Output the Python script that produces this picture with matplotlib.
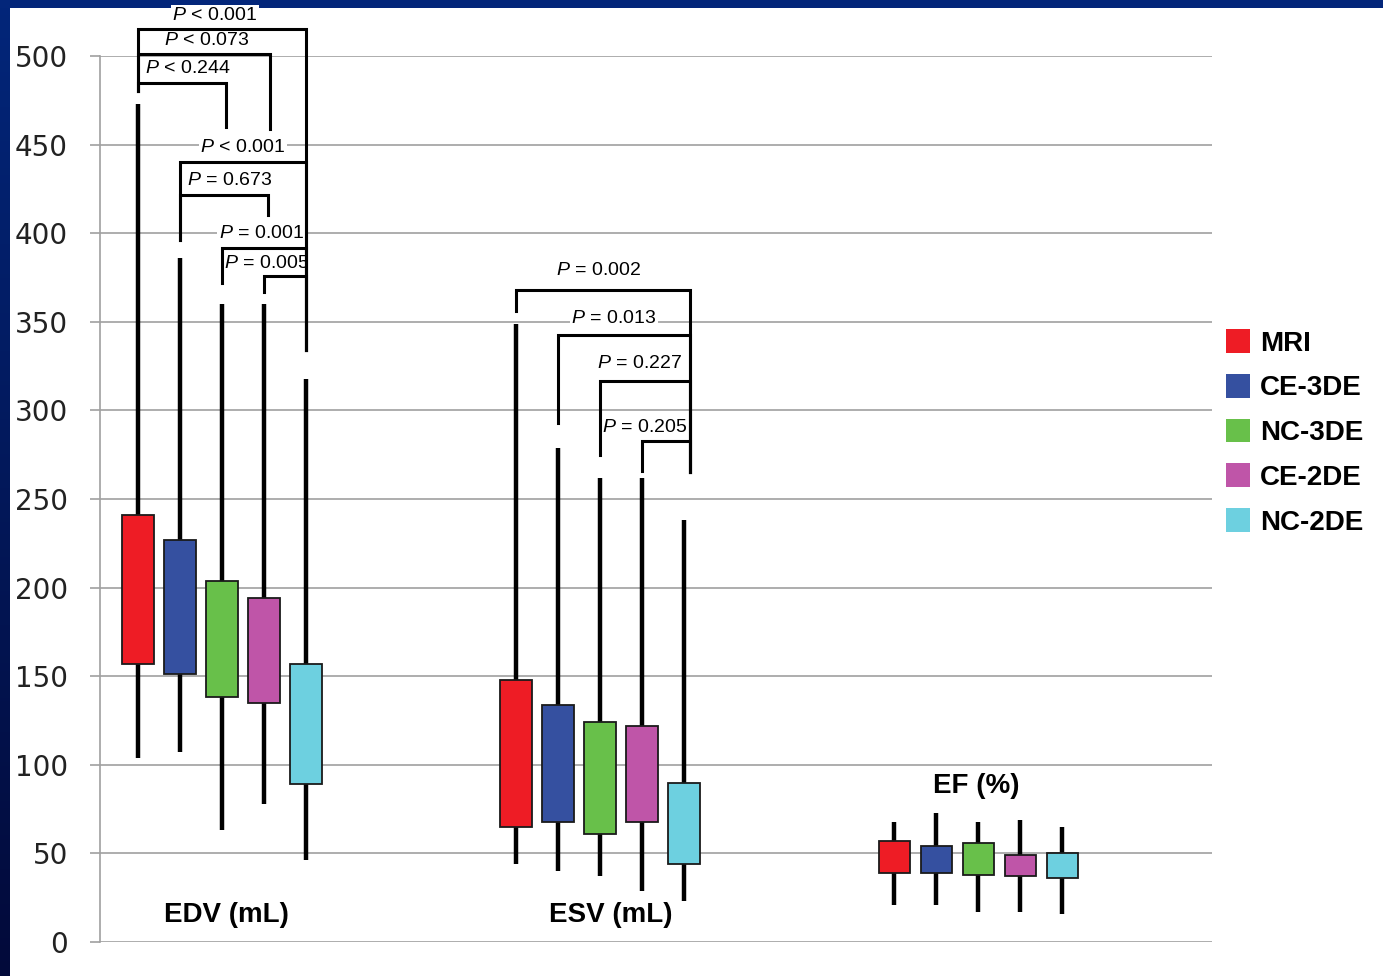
import numpy as np
import matplotlib
matplotlib.use('Agg')
import matplotlib.pyplot as plt
from matplotlib.patches import Rectangle, Patch
from matplotlib.colors import LinearSegmentedColormap

plt.rcParams['mathtext.fontset'] = 'custom'
plt.rcParams['mathtext.it'] = 'Liberation Sans:italic'
plt.rcParams['mathtext.rm'] = 'Liberation Sans'

methods = ['MRI', 'CE-3DE', 'NC-3DE', 'CE-2DE', 'NC-2DE']
colors = ['#EE1C25', '#3550A0', '#68C04A', '#BF55A8', '#6DD0E0']
groups = ['EDV (mL)', 'ESV (mL)', 'EF (%)']
group_label_x = [0.1, 9.26, 17.95]
group_label_y = [15, 15, 88]

# per group: whisker min, box bottom, box top, whisker max
edv_min = [104, 107, 63, 78, 46]
edv_q1 = [157, 151, 138, 135, 89]
edv_q3 = [241, 227, 204, 194, 157]
edv_max = [473, 386, 360, 360, 318]

esv_min = [44, 40, 37, 29, 23]
esv_q1 = [65, 68, 61, 68, 44]
esv_q3 = [148, 134, 124, 122, 90]
esv_max = [349, 279, 262, 262, 238]

ef_min = [21, 21, 17, 17, 16]
ef_q1 = [39, 39, 38, 37, 36]
ef_q3 = [57, 54, 56, 49, 50]
ef_max = [68, 73, 68, 69, 65]

mins = [edv_min, esv_min, ef_min]
q1s = [edv_q1, esv_q1, ef_q1]
q3s = [edv_q3, esv_q3, ef_q3]
maxs = [edv_max, esv_max, ef_max]

# brackets: group, box i, box j (+ small shift), bar height, left leg end, right leg end,
# label, label x (box units from first box), label y
brackets = [
    (0, 0, 4.0, 515, 480, 334, '$P$ < 0.001', 1.83, 523),
    (0, 0, 3.15, 501, 480, 459, '$P$ < 0.073', 1.64, 508.5),
    (0, 0, 2.1, 485, 480, 460, '$P$ < 0.244', 1.19, 493),
    (0, 1, 4.0, 440, 396, 334, '$P$ < 0.001', 2.5, 448.6),
    (0, 1, 3.1, 421.6, 396, 410, '$P$ = 0.673', 2.19, 430),
    (0, 2, 4.0, 391.6, 372, 334, '$P$ = 0.001', 2.93, 400),
    (0, 3, 4.0, 375.8, 367, 334, '$P$ = 0.005', 3.07, 383),
    (1, 0, 4.15, 368, 356, 265, '$P$ = 0.002', 1.97, 379),
    (1, 1, 4.15, 342.5, 293, 265, '$P$ = 0.013', 2.33, 352),
    (1, 2, 4.15, 316.6, 275, 265, '$P$ = 0.227', 2.95, 326.7),
    (1, 3, 4.15, 282.7, 266, 265, '$P$ = 0.205', 3.07, 290.6),
]

group_gap = 9
box_w = 0.74

fig = plt.figure(figsize=(13.83, 9.76), dpi=100)
fig.patch.set_facecolor('white')

# slide background strips
grad = np.linspace(0, 1, 256).reshape(-1, 1)
slide = LinearSegmentedColormap.from_list('slide', ['#03267A', '#020A3A'])
bl = fig.add_axes([0, 0, 10 / 1383, 1])
bl.imshow(grad, aspect='auto', cmap=slide)
bl.axis('off')
bt = fig.add_axes([0, 1 - 8 / 976, 1, 8 / 976])
bt.imshow(np.zeros((1, 2)), aspect='auto', cmap=LinearSegmentedColormap.from_list('t', ['#03267A', '#03267A']))
bt.axis('off')

ax = fig.add_axes([100 / 1383, 34 / 976, 1112 / 1383, 886 / 976])
ax.set_xlim(-2.905, 23.57)
ax.set_ylim(0, 500)
ax.set_yticks(range(0, 501, 50))
ax.set_xticks([])
for s in ['top', 'right', 'bottom']:
    ax.spines[s].set_visible(False)
ax.spines['left'].set_color('#A0A0A0')
ax.spines['left'].set_linewidth(1.2)
ax.tick_params(axis='y', length=7.2, width=1.2, color='#A0A0A0', pad=16,
               labelsize=20, labelcolor='#222222')
ax.yaxis.grid(True, color='#A0A0A0', linewidth=1.2, zorder=0)
ax.set_axisbelow(True)

def pos(g, i):
    return g * group_gap + i - 2

for g in range(3):
    for i in range(5):
        x = pos(g, i)
        ax.vlines(x, mins[g][i], maxs[g][i], color='black', linewidth=3.2, zorder=2)
        ax.add_patch(Rectangle((x - box_w / 2, q1s[g][i]), box_w, q3s[g][i] - q1s[g][i],
                               facecolor=colors[i], edgecolor='#1A1A1A', linewidth=1.3, zorder=3))
    ax.text(group_label_x[g], group_label_y[g], groups[g], ha='center', va='center',
            fontsize=20, fontweight='bold', family='Liberation Sans', zorder=4)

for g, i, j, h, le, re, lab, lx, ly in brackets:
    xi, xj = pos(g, i), pos(g, j)
    ax.plot([xi, xi, xj, xj], [le, h, h, re], color='black', linewidth=2.2,
            solid_joinstyle='miter', clip_on=False, zorder=4)
    ax.text(pos(g, 0) + lx, ly, lab, ha='center', va='center', fontsize=14,
            family='Liberation Sans', zorder=1, clip_on=False,
            bbox=dict(facecolor='white', edgecolor='none', pad=1))

handles = [Patch(facecolor=c, edgecolor='none', label=m) for c, m in zip(colors, methods)]
leg = fig.legend(handles=handles, loc='upper left', bbox_to_anchor=(1226 / 1383, 1 - 329 / 976),
                 frameon=False, borderpad=0, borderaxespad=0,
                 prop={'family': 'Liberation Sans', 'weight': 'bold', 'size': 20},
                 handlelength=0.86, handleheight=0.95, handletextpad=0.36, labelspacing=0.62)

fig.savefig('out.png', dpi=100)
